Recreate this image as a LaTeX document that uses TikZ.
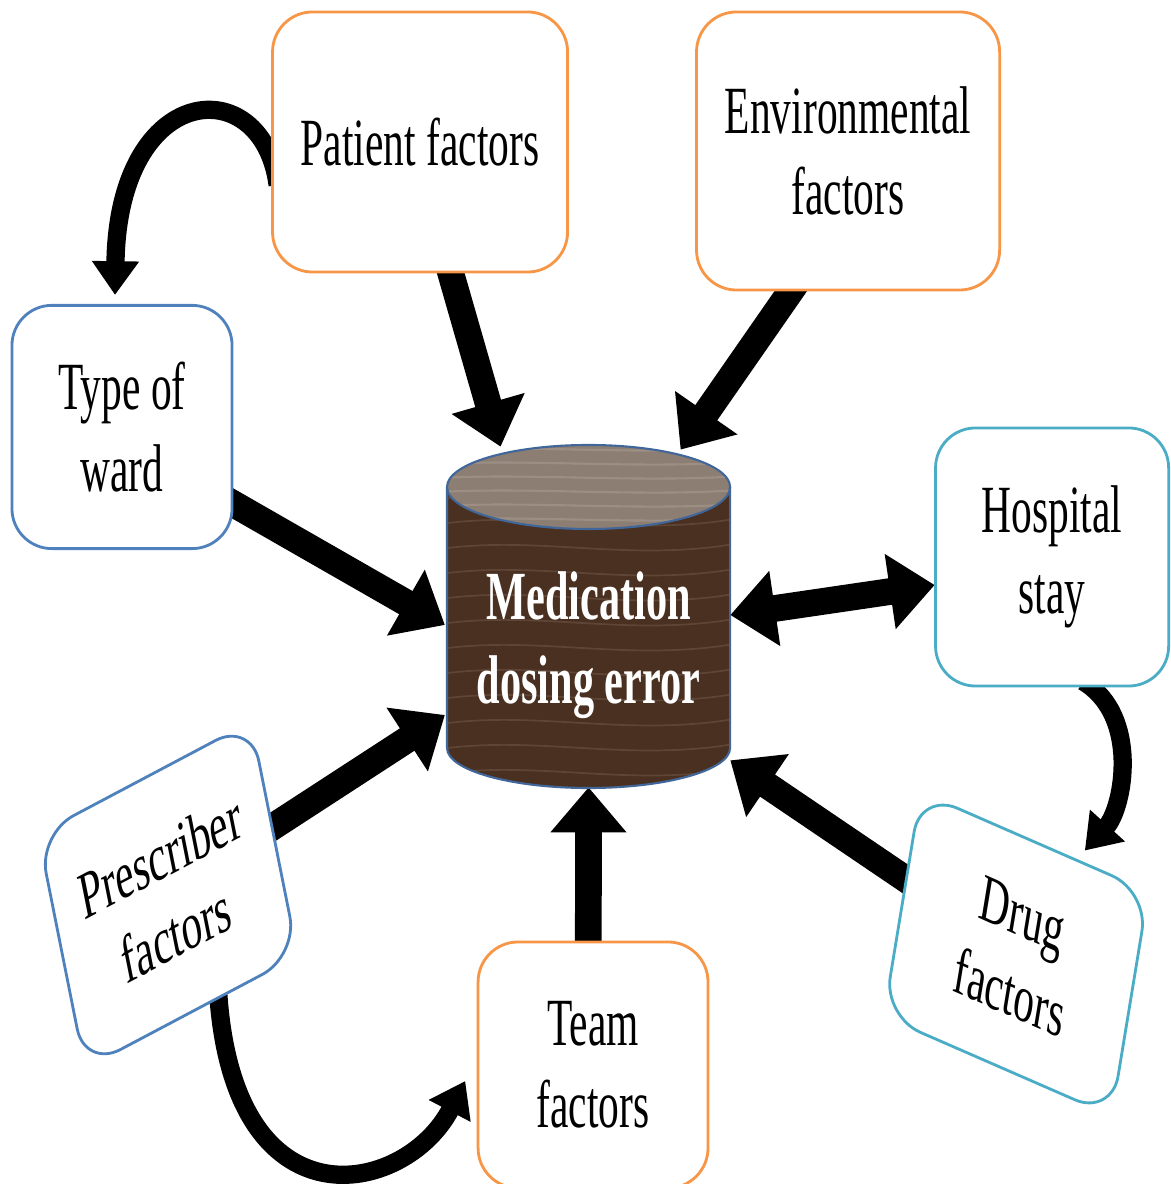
\documentclass[tikz,border=0pt]{standalone}
\usepackage{fontspec}
\setmainfont{Liberation Serif}
\usetikzlibrary{arrows.meta,calc,backgrounds}

\definecolor{boxorange}{HTML}{F79646}
\definecolor{boxblue}{HTML}{4F81BD}
\definecolor{boxteal}{HTML}{4BACC6}
\definecolor{woodbody}{HTML}{4A3020}
\definecolor{woodgrain}{HTML}{6E5444}
\definecolor{woodtop}{HTML}{8C7E72}
\definecolor{topgrain}{HTML}{A3968A}
\definecolor{rimblue}{HTML}{41669A}

\tikzset{
  factor/.style={draw, rounded corners=1cm, line width=2pt, fill=white,
    align=center, inner sep=0pt, font=\fontsize{48}{58}\selectfont},
  orangebox/.style={factor, draw=boxorange},
  bluebox/.style={factor, draw=boxblue},
  tealbox/.style={factor, draw=boxteal},
  medtext/.style={text=white, align=center, inner sep=0pt,
    font=\bfseries\fontsize{49}{60}\selectfont},
  bigarrow/.style={line width=19pt, -{Triangle[width=52pt,length=32pt]}},
  bigboth/.style={line width=19pt, {Triangle[width=52pt,length=32pt]}-{Triangle[width=52pt,length=32pt]}},
  bentarrow/.style={line width=13pt, -{Triangle[width=32pt,length=24pt]}},
  grain/.style={woodgrain, line width=1.2pt, opacity=.6},
}

\begin{document}
\begin{tikzpicture}[x=0.040717cm, y=0.025cm, xscale=0.614, transform shape]
\useasboundingbox (0,0) rectangle (1170,1184);

% factor boxes
\node[orangebox, minimum width=12.01cm, minimum height=6.5cm] (pat) at (420,1042) {Patient factors};
\node[orangebox, minimum width=12.34cm, minimum height=6.95cm] (env) at (848,1033) {Environmental\\factors};
\node[bluebox, minimum width=8.96cm, minimum height=6.08cm] (ward) at (122,757) {Type of\\ward};
\node[tealbox, minimum width=9.49cm, minimum height=6.45cm] (hos) at (1052,627) {Hospital\\stay};
\node[tealbox, minimum width=9.6cm, minimum height=5.8cm, rotate=-15] (drug) at (1016,230) {Drug\\factors};
\node[bluebox, minimum width=9.1cm, minimum height=6.15cm, rotate=18] (pre) at (168,289) {Prescriber\\factors};
\node[orangebox, minimum width=9.36cm, minimum height=6.15cm] (team) at (593,119) {Team\\factors};

% the drum in the middle
\node[minimum width=11.52cm, minimum height=8.5cm, inner sep=0pt] (med) at (588.5,569) {};
\fill[woodbody] (447,697) -- (447,436) arc[start angle=180, end angle=360, x radius=141.5, y radius=40] -- (730,697) -- cycle;
\begin{scope}
  \clip (447,697) -- (447,436) arc[start angle=180, end angle=360, x radius=141.5, y radius=40] -- (730,697) -- cycle;
  \foreach \g in {410,435,...,700}
    \draw[grain] (440,\g) .. controls (540,\g+14) and (630,\g-14) .. (740,\g+6);
\end{scope}
\draw[rimblue, line width=1.5pt] (447,697) -- (447,436) arc[start angle=180, end angle=360, x radius=141.5, y radius=40] -- (730,697);
\fill[woodtop] (588.5,697) ellipse[x radius=141.5, y radius=42];
\begin{scope}
  \clip (588.5,697) ellipse[x radius=141.5, y radius=42];
  \foreach \g in {664,678,...,735}
    \draw[topgrain, line width=1.5pt, opacity=.7] (440,\g) .. controls (530,\g+5) and (640,\g-5) .. (740,\g+2);
\end{scope}
\draw[rimblue, line width=1.5pt] (588.5,697) ellipse[x radius=141.5, y radius=42];
\node[medtext] (medtxt) at (588.5,539) {Medication\\dosing error};

% arrows go underneath the boxes
\begin{scope}[on background layer]
  \draw[bigarrow] ($(pat.center)+(-7,0)$) -- ($(med.north)+(-88,-2)$);
  \draw[bigarrow] ($(env.center)+(40,0)$) -- ($(med.north)+(92,-5)$);
  \draw[bigarrow] ($(ward.center)+(0,-13)$) -- ($(med.west)+(-2,-10)$);
  \draw[bigboth] (med.east) -- ($(hos.west)+(0,-28)$);
  \draw[bigarrow] (pre.center) -- ($(med.west)+(-2,-100)$);
  \draw[bigarrow] ($(team.center)+(-5,0)$) -- ($(med.south)+(0,-2)$);
  \draw[bigarrow] (drug.center) -- ($(med.south east)+(0,25)$);

  % curved links between the boxes
  \draw[bentarrow] ($(pat.west)+(6,-43)$) .. controls +(-15,115) and +(3,215) .. ($(ward.north)+(-7,9)$);
  \draw[bentarrow] ($(hos.south)+(31,6)$) .. controls +(57,-34) and +(39,43) .. ($(drug.north)+(50,-10)$);
  \draw[bentarrow] ($(pre.-70)+(0,8)$) .. controls +(15,-240) and +(-60,-115) .. ($(team.west)+(-12,-16)$);
\end{scope}
\end{tikzpicture}
\end{document}
